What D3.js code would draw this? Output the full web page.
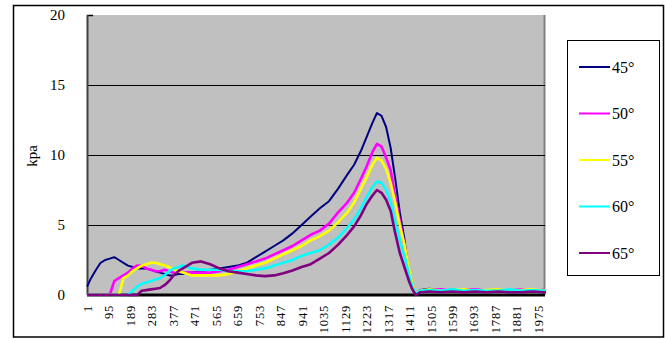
<!DOCTYPE html>
<html>
<head>
<meta charset="utf-8">
<script src="https://cdn.jsdelivr.net/npm/d3@7"></script>
<style>
  html, body { margin: 0; padding: 0; background: #fff; }
  svg { display: block; }
  svg text { font-family: "Liberation Serif", serif; fill: #000; }
</style>
</head>
<body>
<svg id="chart" width="665" height="339"></svg>
<script>
// ---------- data ----------
const sampleIndex = [1, 15, 40, 60, 80, 100, 120, 140, 160, 180,
  200, 220, 240, 260, 280, 300, 320, 340, 360, 380, 400, 420, 440, 460,
  500, 540, 580, 620, 660, 700, 740, 780, 820, 860, 900, 940, 980, 1020, 1060, 1100, 1140,
  1170, 1200, 1225, 1250, 1270, 1290, 1310, 1330, 1350, 1370, 1390, 1410, 1425, 1440, 1460,
  1500, 1550, 1600, 1650, 1700, 1750, 1800, 1850, 1900, 1950, 2000, 2010];

const s45 = [0.6, 1.1, 1.8, 2.3, 2.5, 2.6, 2.7, 2.5, 2.3, 2.1,
  2.0, 1.9, 1.9, 1.9, 1.8, 1.7, 1.6, 1.5, 1.4, 1.4, 1.5, 1.5, 1.6, 1.6,
  1.7, 1.8, 1.9, 2.0, 2.1, 2.3, 2.7, 3.1, 3.5, 3.9, 4.4, 5.0, 5.6, 6.2, 6.7, 7.6, 8.6,
  9.3, 10.3, 11.3, 12.3, 13.0, 12.8, 12.0, 10.5, 8.3, 5.9, 4.0, 1.4, 0.6, 0.1, 0.35,
  0.45, 0.3, 0.4, 0.3, 0.35, 0.3, 0.4, 0.3, 0.35, 0.3, 0.35, 0.3];

const s50 = [0, 0, 0, 0, 0, 0, 1.0, 1.2, 1.4, 1.6,
  1.9, 2.1, 2.1, 1.9, 1.8, 1.7, 1.7, 1.8, 1.7, 1.6, 1.7, 1.6, 1.6, 1.6,
  1.6, 1.6, 1.7, 1.8, 2.0, 2.2, 2.4, 2.6, 2.9, 3.2, 3.5, 3.9, 4.3, 4.6, 5.1, 5.9, 6.6,
  7.3, 8.3, 9.2, 10.2, 10.8, 10.6, 9.8, 8.9, 7.0, 5.3, 3.6, 1.8, 0.8, 0.1, 0.3,
  0.35, 0.4, 0.3, 0.35, 0.4, 0.3, 0.35, 0.3, 0.4, 0.3, 0.35, 0.3];

const s55 = [0, 0, 0, 0, 0, 0, 0, 0, 1.2, 1.4,
  1.7, 1.9, 2.1, 2.2, 2.3, 2.3, 2.2, 2.1, 2.0, 1.8, 1.7, 1.6, 1.5, 1.4,
  1.4, 1.4, 1.4, 1.5, 1.7, 1.9, 2.1, 2.3, 2.6, 2.9, 3.2, 3.5, 3.9, 4.2, 4.6, 5.2, 5.9,
  6.6, 7.6, 8.4, 9.3, 9.8, 9.6, 9.0, 8.0, 6.6, 5.0, 3.6, 1.9, 0.8, 0.1, 0.3,
  0.4, 0.3, 0.35, 0.4, 0.3, 0.35, 0.4, 0.3, 0.35, 0.4, 0.3, 0.35];

const s60 = [0, 0, 0, 0, 0, 0, 0, 0, 0, 0,
  0.3, 0.6, 0.8, 0.9, 1.0, 1.1, 1.2, 1.4, 1.7, 1.9, 2.0, 2.1, 2.0, 1.9,
  1.8, 1.8, 1.8, 1.7, 1.7, 1.7, 1.8, 1.9, 2.1, 2.3, 2.5, 2.8, 3.0, 3.2, 3.6, 4.1, 4.8,
  5.4, 6.2, 7.0, 7.7, 8.1, 8.0, 7.5, 6.6, 5.2, 3.9, 2.8, 1.5, 0.6, 0.1, 0.3,
  0.35, 0.3, 0.4, 0.3, 0.35, 0.3, 0.3, 0.4, 0.3, 0.35, 0.3, 0.3];

const s65 = [0, 0, 0, 0, 0, 0, 0, 0, 0, 0,
  0, 0, 0.3, 0.35, 0.4, 0.45, 0.5, 0.7, 1.0, 1.4, 1.7, 1.9, 2.1, 2.3,
  2.4, 2.2, 1.9, 1.7, 1.6, 1.5, 1.4, 1.35, 1.4, 1.55, 1.75, 2.0, 2.2, 2.6, 3.0, 3.6, 4.3,
  4.9, 5.7, 6.5, 7.1, 7.5, 7.3, 6.8, 6.0, 4.4, 3.0, 2.0, 1.0, 0.4, 0.0, 0.2,
  0.25, 0.2, 0.25, 0.2, 0.25, 0.2, 0.25, 0.2, 0.2, 0.25, 0.2, 0.2];

const seriesNames = ["45°", "50°", "55°", "60°", "65°"];
const seriesColors = ["#000080", "#FF00FF", "#FFFF00", "#00FFFF", "#800080"];
const seriesValues = [s45, s50, s55, s60, s65];

const xTickLabels = [1, 95, 189, 283, 377, 471, 565, 659, 753, 847, 941, 1035,
  1129, 1223, 1317, 1411, 1505, 1599, 1693, 1787, 1881, 1975];
const yTickValues = [0, 5, 10, 15, 20];
const yTitle = "kpa";

// ---------- layout ----------
const FONT = "'Liberation Serif', serif";
const svg = d3.select("#chart");
const plot = { left: 87, right: 545, top: 15, bottom: 295 };

const x = d3.scaleLinear().domain([0.5, 2010]).range([plot.left, plot.right + 1]);
const y = d3.scaleLinear().domain([0, 20]).range([plot.bottom, plot.top]);

// outer chart border
svg.append("rect")
  .attr("x", 13.5).attr("y", 5.5).attr("width", 650).attr("height", 331.5)
  .attr("fill", "#fff").attr("stroke", "#000").attr("stroke-width", 1.5);

// plot area
svg.append("rect")
  .attr("x", plot.left).attr("y", plot.top)
  .attr("width", plot.right - plot.left).attr("height", plot.bottom - plot.top)
  .attr("fill", "#C0C0C0");

// right edge of plot
svg.append("line")
  .attr("x1", plot.right - 0.5).attr("x2", plot.right - 0.5)
  .attr("y1", plot.top).attr("y2", plot.bottom)
  .attr("stroke", "#808080").attr("stroke-width", 2);

// gridlines
svg.append("g").selectAll("line")
  .data(yTickValues.filter(v => v > 0 && v < 20))
  .join("line")
  .attr("x1", plot.left).attr("x2", plot.right)
  .attr("y1", d => Math.round(y(d)) + 0.5).attr("y2", d => Math.round(y(d)) + 0.5)
  .attr("stroke", "#000").attr("stroke-width", 1);

// y axis
const yAxis = d3.axisLeft(y).tickValues(yTickValues).tickSize(0).tickPadding(22);
const gy = svg.append("g").attr("transform", `translate(${plot.left},0)`).call(yAxis);
gy.attr("font-family", null);
gy.select(".domain").remove();
gy.selectAll("text").style("font-family", FONT).style("font-size", "15px");

// inner tick at top
svg.append("line")
  .attr("x1", plot.left).attr("x2", plot.left + 6)
  .attr("y1", y(20) + 0.5).attr("y2", y(20) + 0.5)
  .attr("stroke", "#000").attr("stroke-width", 1.5);

svg.append("line")
  .attr("x1", plot.left + 0.5).attr("x2", plot.left + 0.5)
  .attr("y1", plot.top).attr("y2", plot.bottom)
  .attr("stroke", "#404040").attr("stroke-width", 2);

// x axis line
svg.append("line")
  .attr("x1", plot.left).attr("x2", plot.right)
  .attr("y1", plot.bottom).attr("y2", plot.bottom)
  .attr("stroke", "#000").attr("stroke-width", 3);

// x axis labels
const xAxis = d3.axisBottom(x).tickValues(xTickLabels).tickSize(0).tickPadding(0)
  .tickFormat(d3.format("d"));
const gx = svg.append("g").attr("transform", `translate(0,${plot.bottom})`).call(xAxis);
gx.attr("font-family", null);
gx.select(".domain").remove();
gx.selectAll("text")
  .attr("transform", "rotate(-90)")
  .attr("x", -10).attr("y", 0).attr("dy", "0.35em")
  .attr("text-anchor", "end")
  .style("font-family", FONT)
  .style("font-size", "12.5px")
  .style("letter-spacing", "0.8px");

// y title
svg.append("text")
  .attr("transform", "translate(37,156) rotate(-90)")
  .attr("text-anchor", "middle")
  .style("font-family", FONT)
  .style("font-size", "15px")
  .text(yTitle);

// series
const line = d3.line().x(d => x(d[0])).y(d => y(d[1]));
const widths = [2, 2.6, 2.6, 2.6, 2.6];
seriesValues.forEach((vals, k) => {
  const pts = sampleIndex.map((ix, j) => [ix, vals[j]]);
  svg.append("path")
    .datum(pts)
    .attr("d", line)
    .attr("fill", "none")
    .attr("stroke", seriesColors[k])
    .attr("stroke-width", widths[k])
    .attr("stroke-linejoin", "round");
});

// legend
const lg = svg.append("g");
lg.append("rect")
  .attr("x", 567.5).attr("y", 40.5).attr("width", 92).attr("height", 235)
  .attr("fill", "#fff").attr("stroke", "#000").attr("stroke-width", 1);
const legendY = d3.scalePoint().domain(seriesNames).range([67, 253]);
seriesNames.forEach((name, k) => {
  const yy = legendY(name);
  lg.append("line")
    .attr("x1", 579).attr("x2", 610)
    .attr("y1", yy).attr("y2", yy)
    .attr("stroke", seriesColors[k]).attr("stroke-width", 2);
  lg.append("text")
    .attr("x", 612).attr("y", yy).attr("dy", "0.35em")
    .style("font-family", FONT)
    .style("font-size", "16px")
    .text(name);
});
</script>
</body>
</html>
